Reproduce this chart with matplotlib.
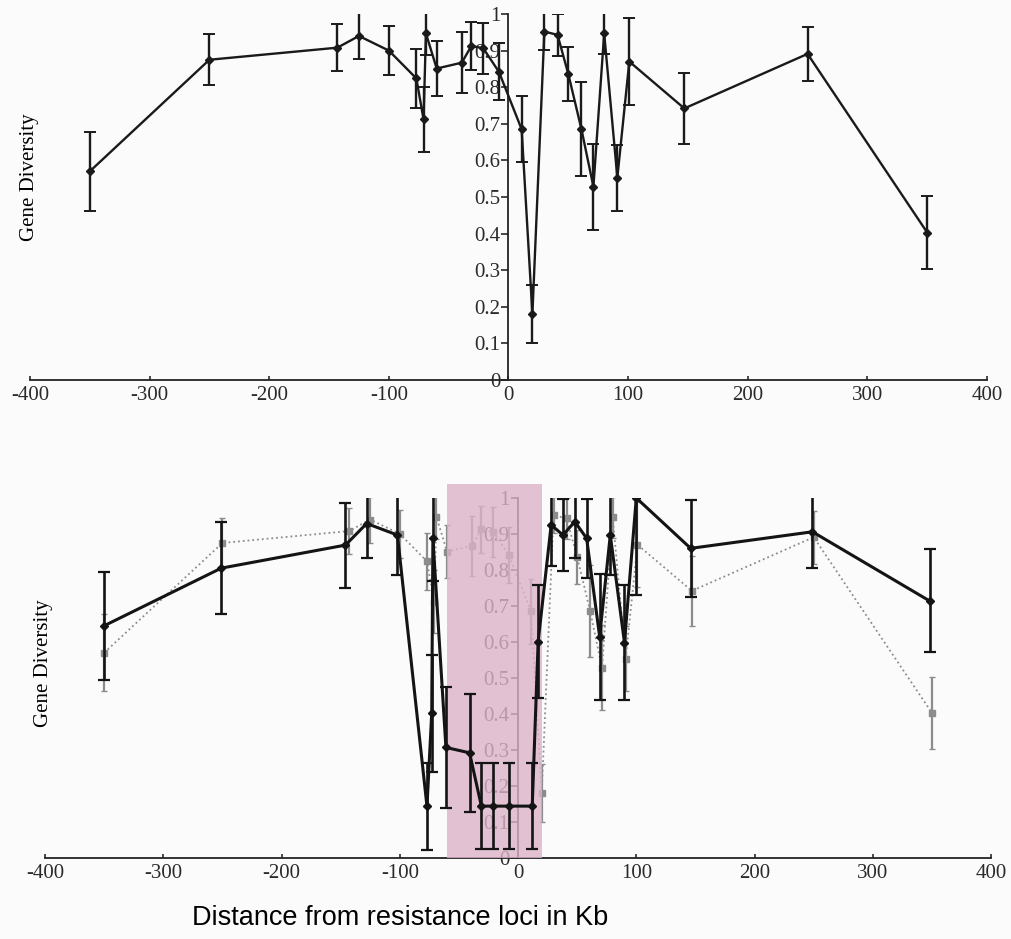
import numpy as np
import matplotlib.pyplot as plt
from matplotlib.patches import Rectangle

# Gene diversity around the resistance loci (upper panel, and grey series in the lower panel)
top_x = [-350, -250, -143, -125, -100, -77, -71, -69, -60, -39, -31, -21, -8,
         11, 20, 30, 41, 50, 61, 71, 80, 91, 101, 147, 250, 350]
top_y = [0.57, 0.875, 0.908, 0.94, 0.90, 0.824, 0.712, 0.947, 0.851, 0.867, 0.913, 0.906, 0.842,
         0.685, 0.18, 0.952, 0.943, 0.836, 0.685, 0.528, 0.947, 0.553, 0.87, 0.742, 0.891, 0.403]
top_err = [0.107, 0.07, 0.064, 0.064, 0.067, 0.08, 0.088, 0.06, 0.074, 0.083, 0.065, 0.07, 0.078,
           0.09, 0.08, 0.05, 0.057, 0.075, 0.128, 0.118, 0.057, 0.09, 0.118, 0.098, 0.074, 0.10]

# second population (black series in the lower panel)
bot_x = [-350, -251, -146, -128, -102, -77, -73, -72, -61, -41, -31, -21, -8,
         12, 17, 28, 38, 48, 58, 69, 78, 90, 100, 146, 249, 348]
bot_y = [0.645, 0.805, 0.869, 0.929, 0.897, 0.143, 0.402, 0.888, 0.307, 0.292, 0.144, 0.144, 0.144,
         0.144, 0.601, 0.925, 0.897, 0.934, 0.888, 0.615, 0.897, 0.598, 1.0, 0.86, 0.906, 0.714]
bot_err = [0.15, 0.128, 0.118, 0.097, 0.11, 0.12, 0.163, 0.12, 0.168, 0.163, 0.12, 0.12, 0.12,
           0.12, 0.157, 0.115, 0.1, 0.1, 0.11, 0.175, 0.11, 0.16, 0.27, 0.134, 0.1, 0.143]

x_ticks = [-400, -300, -200, -100, 0, 100, 200, 300, 400]
y_ticks = [0, 0.1, 0.2, 0.3, 0.4, 0.5, 0.6, 0.7, 0.8, 0.9, 1]
y_ticklabels = ['0', '0.1', '0.2', '0.3', '0.4', '0.5', '0.6', '0.7', '0.8', '0.9', '1']
highlight = (-60, 20)

serif = 'Liberation Serif'
plt.rcParams['font.family'] = serif

fig = plt.figure(figsize=(10.12, 9.39), dpi=100)
fig.patch.set_facecolor('#fbfbfb')

ax1 = fig.add_axes([0.0296, 0.5953, 0.9457, 0.3898])
ax2 = fig.add_axes([0.0445, 0.0863, 0.9348, 0.3834])


def style_axis(ax):
    ax.set_facecolor('none')
    ax.set_xlim(-400, 400)
    ax.set_ylim(0, 1)
    ax.spines['top'].set_visible(False)
    ax.spines['right'].set_visible(False)
    ax.spines['left'].set_position(('data', 0))
    for s in ('left', 'bottom'):
        ax.spines[s].set_linewidth(1.3)
        ax.spines[s].set_color('#222222')
    ax.set_xticks(x_ticks)
    ax.set_xticklabels([str(t) for t in x_ticks])
    ax.set_yticks(y_ticks)
    ax.set_yticklabels(y_ticklabels)
    ax.tick_params(axis='x', direction='in', length=3, width=1.2, labelsize=15, pad=4, colors='#2a2a2a')
    ax.tick_params(axis='y', direction='out', length=5, width=1.2, labelsize=15, pad=1, colors='#2a2a2a')


style_axis(ax1)
ax1.errorbar(top_x, top_y, yerr=top_err, color='#1a1a1a', lw=1.7, marker='D', ms=4,
             ecolor='#1a1a1a', elinewidth=1.7, capsize=4, capthick=1.4, zorder=3)

style_axis(ax2)
ax2.errorbar(top_x, top_y, yerr=top_err, color='#8c8c8c', lw=1.3, ls=':', marker='s', ms=5,
             ecolor='#8c8c8c', elinewidth=1.6, capsize=2, capthick=1.0, zorder=2)
ax2.add_patch(Rectangle((highlight[0], 0), highlight[1] - highlight[0], 1.04,
                        facecolor='#dcb4c8', alpha=0.8, edgecolor='none', zorder=2.6, clip_on=False))
ax2.errorbar(bot_x, bot_y, yerr=bot_err, color='#141414', lw=2.2, marker='D', ms=4,
             ecolor='#141414', elinewidth=1.9, capsize=4, capthick=1.6, zorder=3)

fig.text(0.0296, 0.8115, 'Gene Diversity', rotation=90, ha='center', va='center', fontsize=15)
fig.text(0.0425, 0.294, 'Gene Diversity', rotation=90, ha='center', va='center', fontsize=15)
fig.text(0.395, 1 - 918 / 939, 'Distance from resistance loci in Kb', ha='center', va='center',
         fontsize=19.5, family='Liberation Sans')

fig.savefig('out.png', dpi=100, facecolor=fig.get_facecolor())
